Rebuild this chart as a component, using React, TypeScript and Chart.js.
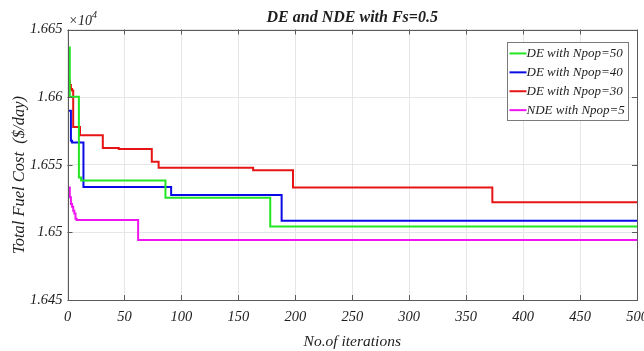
import { useEffect, useRef } from 'react';
import { Chart, registerables } from 'chart.js';

Chart.register(...registerables);

// ---- data (cost in units of x10^4 $/day) ----
const titleText = 'DE and NDE with Fs=0.5';
const xTitle = 'No.of iterations';
const yTitle = 'Total Fuel Cost  ($/day)';
const seriesNames = ['DE with Npop=50', 'DE with Npop=40', 'DE with Npop=30', 'NDE with Npop=5'];
const seriesColors = ['#22e622', '#0a0ae6', '#e61414', '#f014f0'];

const iterGreen = [1, 2, 10, 12, 86, 178, 500];
const costGreen = [1.66366, 1.66003, 1.65405, 1.65383, 1.65256, 1.65044, 1.65044];

const iterBlue = [1, 3, 4, 14, 91, 188, 500];
const costBlue = [1.659, 1.65678, 1.65665, 1.65336, 1.65277, 1.65086, 1.65086];

const iterRed = [1, 2, 3, 4, 5, 11, 31, 45, 74, 80, 163, 198, 373, 500];
const costRed = [1.66123, 1.6609, 1.6606, 1.66049, 1.65779, 1.65719, 1.65623, 1.65616, 1.65522, 1.65477, 1.6546, 1.65331, 1.65222, 1.65222];

const iterMag = [1, 2, 3, 4, 5, 6, 7, 8, 62, 500];
const costMag = [1.65331, 1.6526, 1.6521, 1.6519, 1.6516, 1.6514, 1.651, 1.65091, 1.64944, 1.64944];

const xMin = 0;
const xMax = 500;
const xStep = 50;
const yMin = 1.645;
const yMax = 1.665;
const yStep = 0.005;
const yExponent = '4';

const FONT = '"Liberation Serif", "Times New Roman", serif';
const TEXT = '#1e1e1e';

const toPoints = (xs: number[], ys: number[]) => xs.map((x, i) => ({ x, y: ys[i] }));

const decorPlugin = {
  id: 'decor',
  afterDraw(chart: any) {
    const { ctx, chartArea: a, scales } = chart;
    ctx.save();
    // axis box
    ctx.strokeStyle = '#5a5a5a';
    ctx.lineWidth = 1;
    ctx.strokeRect(Math.round(a.left) + 0.5, Math.round(a.top) + 0.5, Math.round(a.right) - Math.round(a.left), Math.round(a.bottom) - Math.round(a.top));
    // inward ticks
    const tl = 5;
    ctx.beginPath();
    scales.x.ticks.forEach((t: any) => {
      const px = Math.round(scales.x.getPixelForValue(t.value)) + 0.5;
      ctx.moveTo(px, a.bottom);
      ctx.lineTo(px, a.bottom - tl);
      ctx.moveTo(px, a.top);
      ctx.lineTo(px, a.top + tl);
    });
    scales.y.ticks.forEach((t: any) => {
      const py = Math.round(scales.y.getPixelForValue(t.value)) + 0.5;
      ctx.moveTo(a.left, py);
      ctx.lineTo(a.left + tl, py);
      ctx.moveTo(a.right, py);
      ctx.lineTo(a.right - tl, py);
    });
    ctx.stroke();

    // title
    ctx.fillStyle = TEXT;
    ctx.font = `bold italic 16px ${FONT}`;
    ctx.textAlign = 'center';
    ctx.textBaseline = 'alphabetic';
    ctx.fillText(titleText, (a.left + a.right) / 2, 22);

    // x10^4
    ctx.textAlign = 'left';
    ctx.font = `italic 14px ${FONT}`;
    ctx.fillText('\u00d710', a.left + 1, 25);
    const w10 = ctx.measureText('\u00d710').width;
    ctx.font = `italic 10px ${FONT}`;
    ctx.fillText(yExponent, a.left + 1 + w10, 18);

    // y title
    ctx.save();
    ctx.translate(20, 175);
    ctx.rotate(-Math.PI / 2);
    ctx.font = `italic 16.5px ${FONT}`;
    ctx.textAlign = 'center';
    ctx.textBaseline = 'middle';
    ctx.fillText(yTitle, 0, 0);
    ctx.restore();

    // legend
    ctx.font = `italic 13px ${FONT}`;
    let maxW = 0;
    seriesNames.forEach((n) => { maxW = Math.max(maxW, ctx.measureText(n).width); });
    const lineLen = 17;
    const boxW = Math.round(2 + lineLen + maxW + 4);
    const rowH = 18.9;
    const boxH = Math.round(rowH * 4 + 2);
    const bx = Math.round(a.right - 9 - boxW) + 0.5;
    const by = Math.round(a.top + 12.5) + 0.5;
    ctx.fillStyle = '#ffffff';
    ctx.fillRect(bx, by, boxW, boxH);
    ctx.strokeStyle = '#7a7a7a';
    ctx.lineWidth = 1;
    ctx.strokeRect(bx, by, boxW, boxH);
    seriesNames.forEach((n, i) => {
      const cy = by + 1.5 + rowH * (i + 0.5);
      ctx.strokeStyle = seriesColors[i];
      ctx.lineWidth = 2;
      ctx.beginPath();
      ctx.moveTo(bx + 2, cy);
      ctx.lineTo(bx + 2 + lineLen, cy);
      ctx.stroke();
      ctx.fillStyle = TEXT;
      ctx.textAlign = 'left';
      ctx.textBaseline = 'middle';
      ctx.fillText(n, bx + 2 + lineLen, cy + 0.5);
    });
    ctx.restore();
  },
};

export default function App() {
  const ref = useRef<HTMLCanvasElement | null>(null);
  useEffect(() => {
    if (!ref.current) return;
    const series = [
      toPoints(iterGreen, costGreen),
      toPoints(iterBlue, costBlue),
      toPoints(iterRed, costRed),
      toPoints(iterMag, costMag),
    ];
    const chart = new Chart(ref.current, {
      type: 'line',
      data: {
        datasets: series.map((d, i) => ({
          label: seriesNames[i],
          data: d,
          borderColor: seriesColors[i],
          backgroundColor: seriesColors[i],
          borderWidth: 2,
          pointRadius: 0,
          stepped: 'before' as const,
          fill: false,
        })),
      },
      options: {
        responsive: false,
        animation: false,
        events: [],
        layout: { padding: { left: 10, right: 7, top: 29.5, bottom: 0 } },
        plugins: { legend: { display: false }, tooltip: { enabled: false }, title: { display: false } },
        scales: {
          x: {
            type: 'linear',
            min: xMin,
            max: xMax,
            ticks: { stepSize: xStep, color: TEXT, padding: 8, font: { family: FONT, size: 14.5, style: 'italic' } },
            grid: { color: '#e6e6e6', drawTicks: false },
            border: { display: false },
            title: { display: true, text: xTitle, color: TEXT, padding: { top: 0, bottom: 0 }, font: { family: FONT, size: 15.5, style: 'italic' } },
            afterFit: (s: any) => { s.height = 51; s.paddingLeft = 0; s.paddingRight = 0; },
          },
          y: {
            type: 'linear',
            min: yMin,
            max: yMax,
            ticks: {
              stepSize: yStep,
              color: TEXT,
              padding: 5,
              font: { family: FONT, size: 14.5, style: 'italic' },
              callback: (v: any) => String(parseFloat(Number(v).toFixed(4))),
            },
            grid: { color: '#e6e6e6', drawTicks: false },
            border: { display: false },
            afterFit: (s: any) => { s.width = 57.5; s.paddingTop = 0; s.paddingBottom = 0; },
          },
        },
      },
      plugins: [decorPlugin],
    });
    return () => chart.destroy();
  }, []);
  return (
    <div style={{ position: 'fixed', left: 0, top: 0, width: 644, height: 351, background: '#fff' }}>
      <canvas ref={ref} width={644} height={351} style={{ display: 'block' }} />
    </div>
  );
}
